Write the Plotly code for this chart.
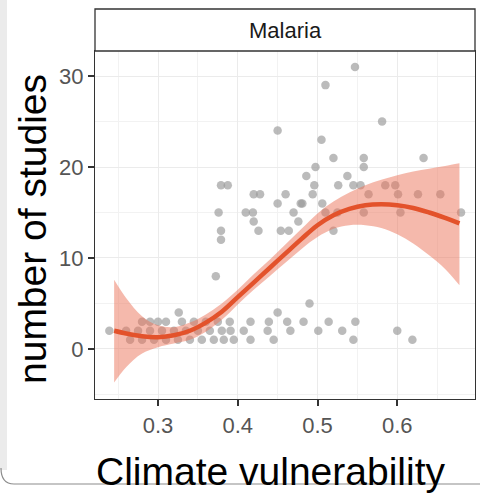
import plotly.graph_objects as go

# ---- data ----
pt_x = [
    0.547, 0.510, 0.581, 0.450, 0.505, 0.520, 0.558, 0.633, 0.4975, 0.558,
    0.486, 0.5375, 0.379, 0.3875, 0.496, 0.526, 0.545, 0.554, 0.585, 0.5975,
    0.420, 0.428, 0.460, 0.494, 0.564, 0.601, 0.626, 0.654, 0.450, 0.479,
    0.506, 0.481, 0.376, 0.410, 0.419, 0.470, 0.510, 0.525, 0.558, 0.604,
    0.680, 0.420, 0.476, 0.379, 0.426, 0.454, 0.464, 0.379, 0.520, 0.3725,
    # low band
    0.280, 0.290, 0.300, 0.310, 0.330, 0.345, 0.360, 0.375, 0.390, 0.416,
    0.439, 0.462, 0.4825, 0.514, 0.5475,
    0.260, 0.275, 0.290, 0.305, 0.320, 0.335, 0.350, 0.365, 0.380, 0.391,
    0.4075, 0.4375, 0.466, 0.501, 0.531, 0.600,
    0.265, 0.280, 0.295, 0.310, 0.325, 0.340, 0.355, 0.370, 0.3825, 0.395,
    0.416, 0.445, 0.545, 0.619,
    0.239, 0.326, 0.450, 0.490,
]
pt_y = [
    31, 29, 25, 24, 23, 21, 21, 21, 20, 20,
    19, 19, 18, 18, 18, 18, 18, 18, 18, 18,
    17, 17, 17, 17, 17, 17, 17, 17, 16, 16,
    16, 16, 15, 15, 15, 15, 15, 15, 15, 15,
    15, 14, 14, 13, 13, 13, 13, 12, 13, 8,
    3, 3, 3, 3, 3, 3, 3, 3, 3, 3,
    3, 3, 3, 3, 3,
    2, 2, 2, 2, 2, 2, 2, 2, 2, 2,
    2, 2, 2, 2, 2, 2,
    1, 1, 1, 1, 1, 1, 1, 1, 1, 1,
    1, 1, 1, 1,
    2, 4, 4, 5,
]

fit_x = [0.245, 0.26, 0.28, 0.30, 0.32, 0.34, 0.36, 0.38, 0.40, 0.42, 0.44,
         0.46, 0.48, 0.50, 0.52, 0.54, 0.56, 0.58, 0.60, 0.62, 0.64, 0.66, 0.678]
fit_y = [2.0, 1.7, 1.4, 1.3, 1.5, 2.0, 2.9, 4.1, 5.7, 7.3, 8.9,
         10.5, 12.1, 13.6, 14.7, 15.4, 15.8, 15.9, 15.8, 15.5, 15.0, 14.4, 13.8]
fit_lo = [-3.7, -2.0, -0.5, 0.2, 0.6, 1.0, 1.9, 3.2, 4.9, 6.5, 8.0,
          9.5, 11.0, 12.3, 13.2, 13.6, 13.6, 13.3, 12.6, 11.6, 10.3, 8.8, 7.0]
fit_hi = [7.6, 5.6, 3.6, 2.6, 2.4, 2.9, 3.8, 5.0, 6.5, 8.2, 9.8,
          11.5, 13.2, 14.9, 16.2, 17.2, 18.0, 18.6, 19.1, 19.5, 19.8, 20.1, 20.4]

x_ticks = [0.3, 0.4, 0.5, 0.6]
x_labels = ["0.3", "0.4", "0.5", "0.6"]
y_ticks = [0, 10, 20, 30]
y_labels = ["0", "10", "20", "30"]

FONT = "Liberation Sans, Arial, Helvetica, sans-serif"

fig = go.Figure()
fig.add_trace(go.Scatter(x=pt_x, y=pt_y, mode="markers",
                         marker=dict(size=8.5, color="rgba(155,155,155,0.68)", line=dict(width=0)),
                         hoverinfo="skip"))
fig.add_trace(go.Scatter(x=fit_x, y=fit_lo, mode="lines", line=dict(width=0, shape="spline"),
                         hoverinfo="skip"))
fig.add_trace(go.Scatter(x=fit_x, y=fit_hi, mode="lines", line=dict(width=0, shape="spline"),
                         fill="tonexty", fillcolor="rgba(235,115,90,0.5)", hoverinfo="skip"))
fig.add_trace(go.Scatter(x=fit_x, y=fit_y, mode="lines",
                         line=dict(color="#E3522B", width=4.5, shape="spline"), hoverinfo="skip"))

W, H = 480, 494
L, R, T, B = 95, 5, 51, 95
pw, ph = W - L - R, H - T - B

def px(xp):
    return (xp - L) / pw

def py(yp):
    return (H - B - yp) / ph

axis_common = dict(showline=True, mirror=True, linecolor="#333333", linewidth=1.3,
                   ticks="outside", ticklen=6, tickwidth=1.5, tickcolor="#333333",
                   gridcolor="#EBEBEB", gridwidth=1.3, zeroline=False,
                   tickfont=dict(family=FONT, size=22, color="#555555"))

fig.update_xaxes(range=[0.221, 0.6975], tickvals=x_ticks, ticktext=x_labels,
                 minor=dict(dtick=0.05, tick0=0.25, showgrid=True, gridcolor="#F2F2F2",
                            gridwidth=0.8, ticks=""),
                 **axis_common)
fig.update_yaxes(range=[-5.5, 32.75], tickvals=y_ticks, ticktext=y_labels,
                 minor=dict(dtick=5, tick0=-5, showgrid=True, gridcolor="#F2F2F2",
                            gridwidth=0.8, ticks=""),
                 **axis_common)

shapes = [
    # facet strip
    dict(type="rect", xref="paper", yref="paper", x0=0, x1=1, y0=1, y1=py(9),
         fillcolor="white", line=dict(color="#333333", width=1.3), layer="above"),
    # screenshot frame artifacts
    dict(type="rect", xref="paper", yref="paper", x0=px(0), x1=px(7), y0=py(470), y1=py(0),
         fillcolor="#EBEBEB", line=dict(width=0), layer="below"),
    dict(type="path", xref="paper", yref="paper",
         path=f"M {px(1)},{py(468)} Q {px(1)},{py(484)} {px(14)},{py(484)} L {px(480)},{py(484)}",
         line=dict(color="#8C8C8C", width=1.2), layer="below"),
]

annotations = [
    dict(text="Malaria", xref="paper", yref="paper", x=0.5, y=(1 + py(9)) / 2,
         xanchor="center", yanchor="middle", showarrow=False,
         font=dict(family=FONT, size=22, color="#1A1A1A")),
    dict(text="number of studies", xref="paper", yref="paper", x=px(32), y=py(229),
         xanchor="center", yanchor="middle", textangle=-90, showarrow=False,
         font=dict(family=FONT, size=39, color="black")),
    dict(text="Climate vulnerability", xref="paper", yref="paper", x=px(270), y=py(472),
         xanchor="center", yanchor="middle", showarrow=False,
         font=dict(family=FONT, size=39, color="black")),
]

fig.update_layout(width=W, height=H, margin=dict(l=L, r=R, t=T, b=B),
                  paper_bgcolor="white", plot_bgcolor="white", showlegend=False,
                  shapes=shapes, annotations=annotations)

fig.write_html("out.html")
